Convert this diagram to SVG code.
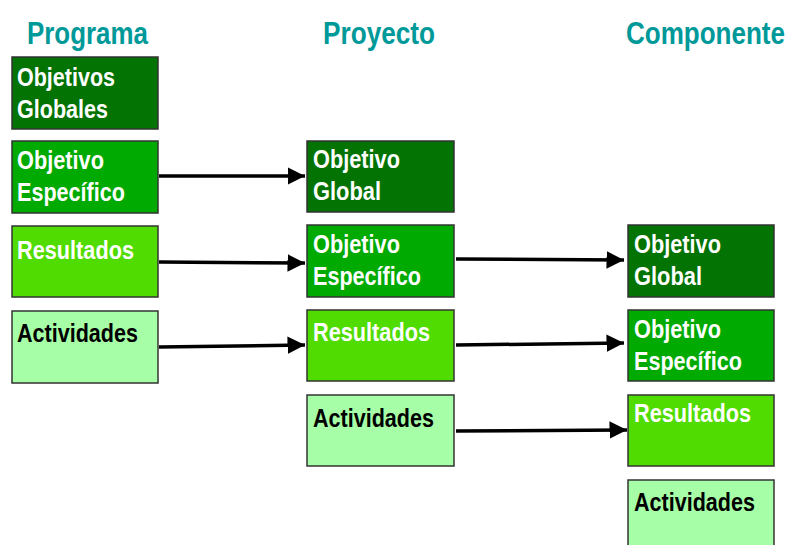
<svg xmlns="http://www.w3.org/2000/svg" width="788" height="545" viewBox="0 0 788 545">
<defs>
<style>
.hdr{font-family:"Liberation Sans Narrow","Liberation Sans",Arial,sans-serif;font-weight:bold;font-size:32px;fill:#009999}
.lbl{font-family:"Liberation Sans Narrow","Liberation Sans",Arial,sans-serif;font-weight:bold;font-size:26px;fill:#ffffff}
.dark{fill:#000000}
.box{stroke:#333333;stroke-width:1.5}
.c1{fill:#037303}
.c2{fill:#00AA00}
.c3{fill:#50DC00}
.c4{fill:#A6FFA6}
.conn line{stroke:#000000;stroke-width:3.5}
</style>
<marker id="ah" viewBox="0 0 10 10" refX="10" refY="5" markerWidth="5" markerHeight="5" markerUnits="strokeWidth" orient="auto">
<path d="M0,0 L10,5 L0,10 z" fill="#000000"/>
</marker>
</defs>
<rect width="788" height="545" fill="#ffffff"/>
<text class="hdr" x="27" y="44" textLength="121" lengthAdjust="spacingAndGlyphs">Programa</text>
<text class="hdr" x="323" y="44" textLength="112" lengthAdjust="spacingAndGlyphs">Proyecto</text>
<text class="hdr" x="626" y="44" textLength="159" lengthAdjust="spacingAndGlyphs">Componente</text>

<g id="p-objetivos-globales"><rect class="box c1" x="12" y="57" width="146" height="72"/><text class="lbl" x="17" y="86" textLength="98" lengthAdjust="spacingAndGlyphs">Objetivos</text><text class="lbl" x="17" y="118" textLength="91" lengthAdjust="spacingAndGlyphs">Globales</text></g>
<g id="p-objetivo-especifico"><rect class="box c2" x="12" y="141" width="146" height="72"/><text class="lbl" x="17" y="169" textLength="87" lengthAdjust="spacingAndGlyphs">Objetivo</text><text class="lbl" x="17" y="201" textLength="108" lengthAdjust="spacingAndGlyphs">Específico</text></g>
<g id="p-resultados"><rect class="box c3" x="12" y="226" width="146" height="71"/><text class="lbl" x="17" y="259" textLength="117" lengthAdjust="spacingAndGlyphs">Resultados</text></g>
<g id="p-actividades"><rect class="box c4" x="12" y="311" width="146" height="72"/><text class="lbl dark" x="17" y="342" textLength="121" lengthAdjust="spacingAndGlyphs">Actividades</text></g>

<g id="y-objetivo-global"><rect class="box c1" x="307" y="141" width="147" height="71"/><text class="lbl" x="313" y="168" textLength="87" lengthAdjust="spacingAndGlyphs">Objetivo</text><text class="lbl" x="313" y="200" textLength="68" lengthAdjust="spacingAndGlyphs">Global</text></g>
<g id="y-objetivo-especifico"><rect class="box c2" x="307" y="225" width="147" height="72"/><text class="lbl" x="313" y="253" textLength="87" lengthAdjust="spacingAndGlyphs">Objetivo</text><text class="lbl" x="313" y="285" textLength="108" lengthAdjust="spacingAndGlyphs">Específico</text></g>
<g id="y-resultados"><rect class="box c3" x="307" y="310" width="147" height="71"/><text class="lbl" x="313" y="341" textLength="117" lengthAdjust="spacingAndGlyphs">Resultados</text></g>
<g id="y-actividades"><rect class="box c4" x="307" y="395" width="147" height="71"/><text class="lbl dark" x="313" y="427" textLength="121" lengthAdjust="spacingAndGlyphs">Actividades</text></g>

<g id="c-objetivo-global"><rect class="box c1" x="628" y="225" width="146" height="72"/><text class="lbl" x="634" y="253" textLength="87" lengthAdjust="spacingAndGlyphs">Objetivo</text><text class="lbl" x="634" y="285" textLength="68" lengthAdjust="spacingAndGlyphs">Global</text></g>
<g id="c-objetivo-especifico"><rect class="box c2" x="628" y="310" width="146" height="71"/><text class="lbl" x="634" y="338" textLength="87" lengthAdjust="spacingAndGlyphs">Objetivo</text><text class="lbl" x="634" y="370" textLength="108" lengthAdjust="spacingAndGlyphs">Específico</text></g>
<g id="c-resultados"><rect class="box c3" x="628" y="395" width="146" height="71"/><text class="lbl" x="634" y="422" textLength="117" lengthAdjust="spacingAndGlyphs">Resultados</text></g>
<g id="c-actividades"><rect class="box c4" x="628" y="480" width="146" height="72"/><text class="lbl dark" x="634" y="511" textLength="121" lengthAdjust="spacingAndGlyphs">Actividades</text></g>

<g id="connectors" class="conn">
<line x1="159" y1="176" x2="305" y2="176" marker-end="url(#ah)"/>
<line x1="159" y1="262" x2="305" y2="263" marker-end="url(#ah)"/>
<line x1="159" y1="347" x2="305" y2="345" marker-end="url(#ah)"/>
<line x1="456" y1="259" x2="624" y2="260" marker-end="url(#ah)"/>
<line x1="456" y1="345" x2="624" y2="343" marker-end="url(#ah)"/>
<line x1="456" y1="431" x2="627" y2="430" marker-end="url(#ah)"/>
</g>
</svg>
